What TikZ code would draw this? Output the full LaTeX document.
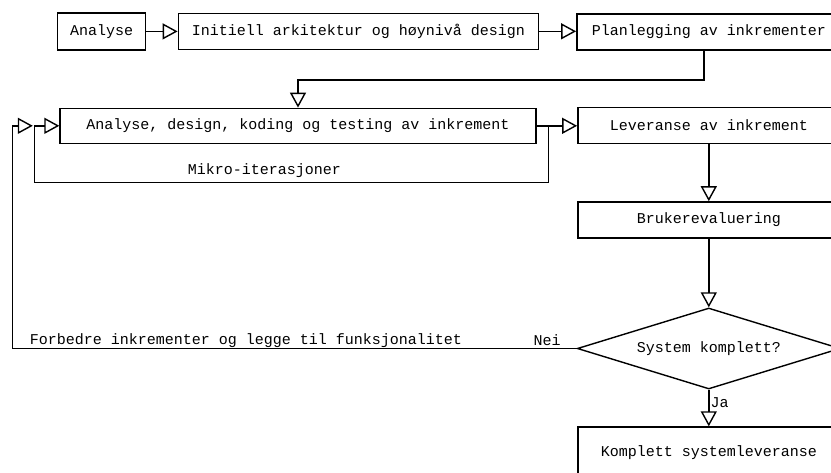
\documentclass[tikz,border=0pt]{standalone}
\usepackage{fontspec}
\setmainfont{Liberation Mono}
\usetikzlibrary{arrows.meta,shapes.geometric}

\tikzset{
  flow/.style={line width=1.4pt, line join=miter},
  box/.style={flow, draw, rectangle, inner sep=0pt, font=\fontsize{15}{18}\selectfont},
  decision/.style={flow, draw, diamond, inner sep=0pt, font=\fontsize{15}{18}\selectfont},
  arr/.style={flow, -{Triangle[open, length=15pt, width=16pt, line width=1.4pt]}},
  lbl/.style={inner sep=0pt, font=\fontsize{15}{18}\selectfont}
}

\begin{document}
\begin{tikzpicture}[x=1pt, y=-1pt]
  \useasboundingbox (0,0) rectangle (831,472);
  \clip (0,0) rectangle (831,472);
  \fill[white] (0,0) rectangle (831,472);

  % top row
  \node[box, minimum width=88pt,  minimum height=37pt] (a1) at (101.7,31.4) {Analyse};
  \node[box, minimum width=360pt, minimum height=36pt] (a2) at (358.3,31.3) {Initiell arkitektur og høynivå design};
  \node[box, minimum width=264pt, minimum height=36pt] (a3) at (708.8,32.1) {Planlegging av inkrementer};

  % increment work
  \node[box, minimum width=476pt, minimum height=35pt] (b1) at (298,125.8) {Analyse, design, koding og testing av inkrement};
  \node[box, minimum width=262pt, minimum height=36pt] (b2) at (708.8,125.3) {Leveranse av inkrement};
  \node[box, minimum width=262pt, minimum height=36pt] (c)  at (708.8,219.9) {Brukerevaluering};
  \node[decision, shape aspect=3.247, minimum width=263pt, minimum height=81pt] (d) at (708.8,348.5) {System komplett?};
  \node[box, minimum width=262pt, minimum height=51pt] (e)  at (708.8,452.5) {Komplett systemleveranse};

  % junction points of the loops
  \coordinate (mr) at (548.3,125.8);
  \coordinate (ml) at (34.3,125.8);

  % connectors
  \draw[arr] (a1.east) -- (a1.east -| a2.west);
  \draw[arr] (a2.east) -- (a2.east -| a3.west);
  \draw[arr] ([xshift=-4.8pt]a3.south) -- ++(0,29.3) -| (b1.north);
  \draw[arr] (b1.east) -- (b1.east -| b2.west);
  \draw[arr] (mr) -- ++(0,56.5) -| (ml) -- (b1.west);
  \draw[arr] (b2.south) -- (c.north);
  \draw[arr] (c.south) -- (d.north);
  \draw[arr] (d.south) -- (e.north);
  \draw[arr, shorten >=1.5pt] (d.west) -- (12.7,348.5) |- (ml);

  % labels
  \node[lbl] (mikro) at (264.5,171) {Mikro-iterasjoner};
  \node[lbl] (forb)  at (246,340.5) {Forbedre inkrementer og legge til funksjonalitet};
  \node[lbl] (nei)   at (547,340.5) {Nei};
  \node[lbl, anchor=west] (ja) at (710.5,402.5) {Ja};
\end{tikzpicture}
\end{document}
